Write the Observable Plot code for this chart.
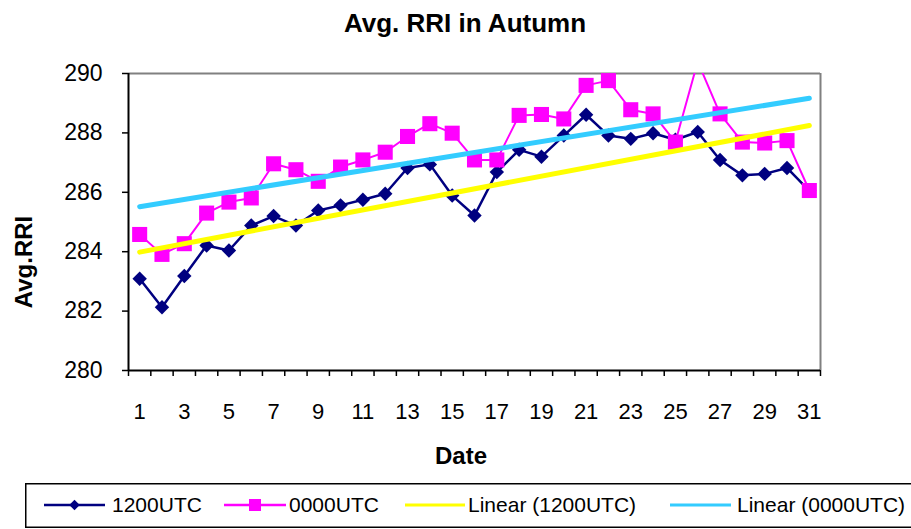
<!DOCTYPE html>
<html>
<head>
<meta charset="utf-8">
<script src="https://cdn.jsdelivr.net/npm/d3@7"></script>
<script src="https://cdn.jsdelivr.net/npm/@observablehq/plot@0.6"></script>
<style>
  body { margin: 0; background: #fff; width: 911px; height: 529px; overflow: hidden; position: relative;
         font-family: "Liberation Sans", Arial, sans-serif; }
  #title { position: absolute; left: 0; top: 0; width: 911px; height: 46px; line-height: 46px;
           box-sizing: border-box; padding-left: 19px; text-align: center; font-weight: bold; font-size: 26px; color: #000; }
  #chart { position: absolute; left: 0; top: 46px; }
  #legend { position: absolute; left: 0; top: 483px; }
</style>
</head>
<body>
<div id="title">Avg. RRI in Autumn</div>
<div id="chart"></div>
<div id="legend"></div>
<script>
// ---- data ----
const days = [1, 2, 3, 4, 5, 6, 7, 8, 9, 10, 11, 12, 13, 14, 15, 16, 17, 18, 19, 20,
              21, 22, 23, 24, 25, 26, 27, 28, 29, 30, 31];
const utc1200 = [283.09, 282.13, 283.18, 284.21, 284.04, 284.88, 285.20, 284.88, 285.39, 285.56,
                 285.75, 285.95, 286.82, 286.94, 285.89, 285.22, 286.68, 287.43, 287.20, 287.91,
                 288.61, 287.91, 287.80, 287.99, 287.77, 288.03, 287.09, 286.57, 286.62, 286.82, 286.05];
const utc0000 = [284.58, 283.91, 284.27, 285.30, 285.67, 285.81, 286.96, 286.76, 286.37, 286.85,
                 287.09, 287.35, 287.88, 288.31, 287.99, 287.09, 287.09, 288.59, 288.62, 288.47,
                 289.60, 289.76, 288.78, 288.64, 287.69, 290.40, 288.64, 287.69, 287.66, 287.74, 286.06];
const yTicks = [280, 282, 284, 286, 288, 290];
const xTickLabels = [1, 3, 5, 7, 9, 11, 13, 15, 17, 19, 21, 23, 25, 27, 29, 31];
const seriesNames = ["1200UTC", "0000UTC", "Linear (1200UTC)", "Linear (0000UTC)"];
const seriesColors = ["#000080", "#FF00FF", "#FFFF00", "#33CCFF"];

const rows1200 = days.map((d, i) => ({day: d, value: utc1200[i]}));
const rows0000 = days.map((d, i) => ({day: d, value: utc0000[i]}));
const boundaries = d3.range(0.5, days.length + 1, 1);

const chart = Plot.plot({
  width: 911,
  height: 437,
  marginTop: 27,
  marginBottom: 113,
  marginLeft: 128,
  marginRight: 91,
  style: {fontFamily: "'Liberation Sans', Arial, sans-serif", background: "#fff", color: "#000"},
  x: {domain: [0.5, days.length + 0.5]},
  y: {domain: [280, 290]},
  marks: [
    Plot.ruleY([290], {stroke: "#808080", strokeWidth: 2}),
    Plot.ruleX([days.length + 0.5], {stroke: "#808080", strokeWidth: 2}),
    Plot.axisY({ticks: yTicks, tickSize: 6, tickPadding: 20, fontSize: 23, label: null, strokeWidth: 1.5}),
    Plot.axisX({ticks: boundaries, tickSize: 6, tickFormat: () => "", label: null, strokeWidth: 1.5}),
    Plot.axisX({ticks: xTickLabels, tickSize: 0, tickPadding: 33, fontSize: 22, label: null, tickFormat: d => String(d)}),
    Plot.line(rows1200, {x: "day", y: "value", stroke: seriesColors[0], strokeWidth: 2.5, clip: true}),
    Plot.dot(rows1200, {x: "day", y: "value", symbol: "diamond2", r: 6.5, fill: seriesColors[0], stroke: "none", clip: true}),
    Plot.line(rows0000, {x: "day", y: "value", stroke: seriesColors[1], strokeWidth: 2, clip: true}),
    Plot.dot(rows0000, {x: "day", y: "value", symbol: "square", r: 8.5, fill: seriesColors[1], stroke: "none", clip: true}),
    Plot.linearRegressionY(rows1200, {x: "day", y: "value", stroke: seriesColors[2], strokeWidth: 5, ci: 0}),
    Plot.linearRegressionY(rows0000, {x: "day", y: "value", stroke: seriesColors[3], strokeWidth: 5, ci: 0}),
    Plot.ruleY([280], {stroke: "#000", strokeWidth: 2}),
    Plot.ruleX([0.5], {stroke: "#000", strokeWidth: 2}),
    Plot.text(["Avg.RRI"], {text: d => d, frameAnchor: "left", textAnchor: "middle", lineAnchor: "middle",
                            dx: -104, dy: 40, rotate: -90, fontSize: 24, fontWeight: "bold", fill: "#000"}),
    Plot.text(["Date"], {text: d => d, frameAnchor: "bottom", textAnchor: "middle", lineAnchor: "middle",
                         dx: -13.5, dy: 86, fontSize: 24, fontWeight: "bold", fill: "#000"})
  ]
});
document.getElementById("chart").appendChild(chart);

// ---- legend (below the chart) ----
const legendItems = [
  {name: seriesNames[0], color: seriesColors[0], x1: 44, x2: 105, tx: 112, marker: "diamond"},
  {name: seriesNames[1], color: seriesColors[1], x1: 224, x2: 286, tx: 289, marker: "square"},
  {name: seriesNames[2], color: seriesColors[2], x1: 405, x2: 465, tx: 468, marker: null},
  {name: seriesNames[3], color: seriesColors[3], x1: 670, x2: 731, tx: 737, marker: null}
];
const lsvg = d3.select("#legend").append("svg").attr("width", 911).attr("height", 46)
  .style("font-family", "'Liberation Sans', Arial, sans-serif");
lsvg.append("rect").attr("x", 25.75).attr("y", 0.75).attr("width", 920).attr("height", 43.5)
  .attr("fill", "#fff").attr("stroke", "#000").attr("stroke-width", 1.5);
for (const it of legendItems) {
  lsvg.append("line").attr("x1", it.x1).attr("x2", it.x2).attr("y1", 22).attr("y2", 22)
    .attr("stroke", it.color).attr("stroke-width", it.marker ? 2.5 : 3);
  const cx = (it.x1 + it.x2) / 2;
  if (it.marker === "diamond") {
    lsvg.append("path").attr("d", d3.symbol(d3.symbolDiamond2, 70)()).attr("transform", `translate(${cx},22)`).attr("fill", it.color);
  } else if (it.marker === "square") {
    lsvg.append("rect").attr("x", cx - 6).attr("y", 16).attr("width", 12).attr("height", 12).attr("fill", it.color);
  }
  lsvg.append("text").attr("x", it.tx).attr("y", 29).attr("font-size", 21).attr("fill", "#000").text(it.name);
}
</script>
</body>
</html>
